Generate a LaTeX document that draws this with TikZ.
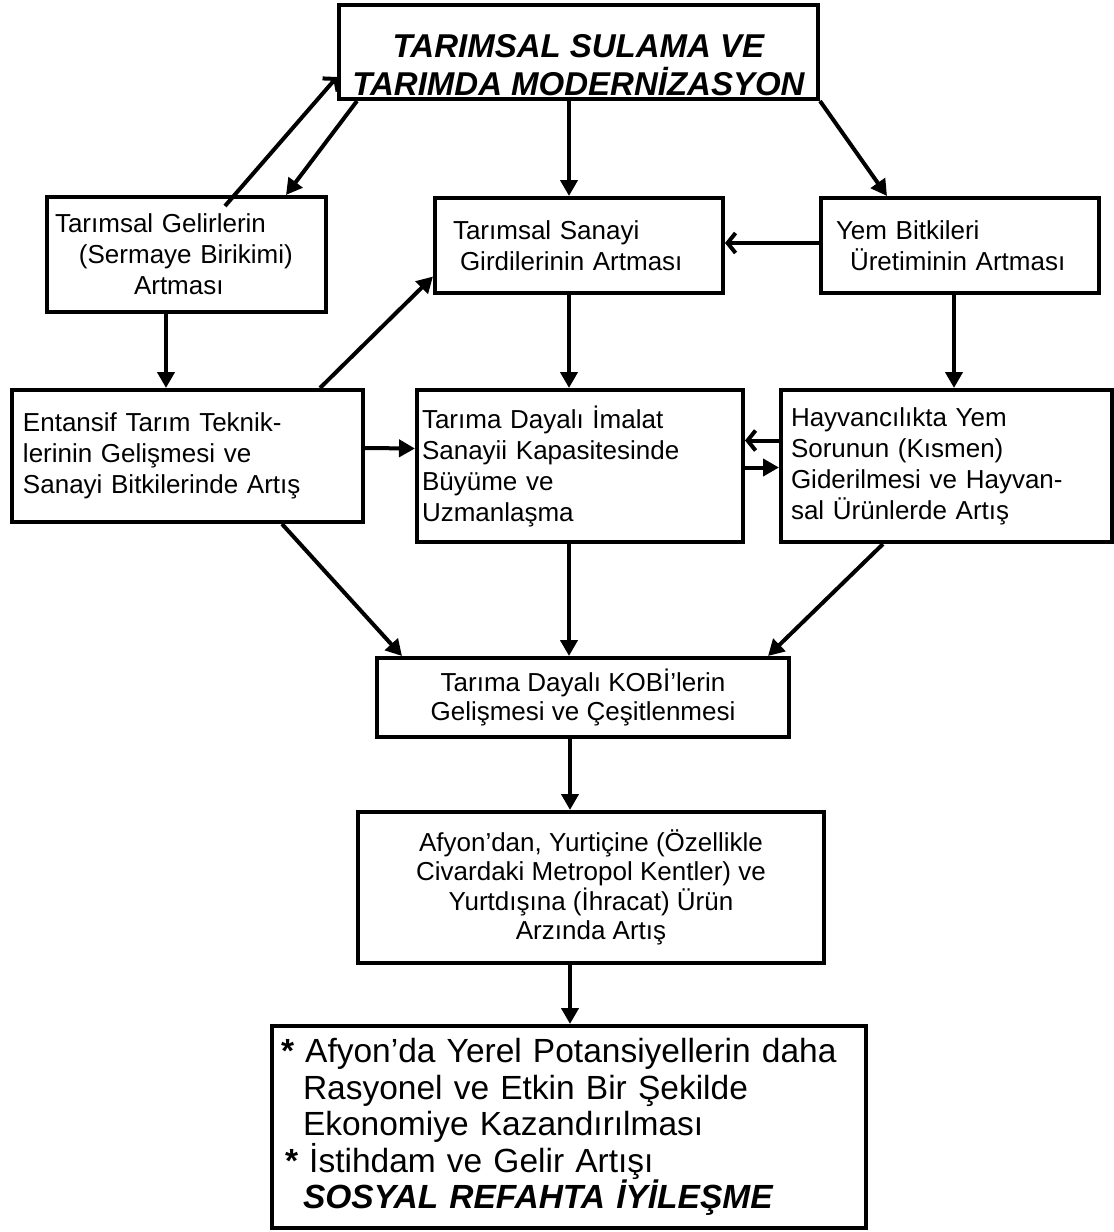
\documentclass[tikz,border=0pt]{standalone}
\usepackage{fontspec}
\setmainfont{Liberation Sans}
\usepackage{tikz}
\usetikzlibrary{arrows.meta,calc,positioning}

\begin{document}
\begin{tikzpicture}[x=1pt,y=-1pt,font=\fontsize{26}{31}\selectfont,
    box/.style={draw, line width=4pt, inner ysep=0pt, align=left},
    arr/.style={-{Triangle[length=16pt,width=17pt]}, line width=4pt},
    barb/.style={-{Straight Barb[length=8pt,width=20pt]}, line width=4pt}]
        \useasboundingbox (0,0) rectangle (1114,1232);

        % top level
        \node[box, align=center, minimum width=479pt, minimum height=94pt,
            font=\fontsize{33}{38}\selectfont\bfseries\itshape] (modern) at (578.5,52)
            {\rule{0pt}{49pt}TARIMSAL SULAMA VE\\TARIMDA MODERNİZASYON};

        % first row
        \node[box, minimum width=279pt, minimum height=115pt, inner xsep=8pt, text width=263pt] (gelir) at (186.5,254.5)
            {Tarımsal Gelirlerin\\\hspace*{24pt}(Sermaye Birikimi)\\\hspace*{79pt}Artması};
        \node[box, minimum width=288pt, minimum height=95pt, inner xsep=18pt, text width=252pt] (girdi) at (579,245.5)
            {Tarımsal Sanayi\\\hspace*{7pt}Girdilerinin Artması};
        \node[box, minimum width=278pt, minimum height=95pt, inner xsep=15pt, text width=248pt] (yem) at (960,245.5)
            {Yem Bitkileri\\\hspace*{14pt}Üretiminin Artması};

        % second row
        \node[box, minimum width=351pt, minimum height=132pt, inner xsep=11pt, text width=329pt] (entansif) at (187.5,456)
            {Entansif Tarım Teknik-\\lerinin Gelişmesi ve\\Sanayi Bitkilerinde Artış};
        \node[box, minimum width=326pt, minimum height=152pt, inner xsep=5pt, text width=316pt] (imalat) at (580,466)
            {Tarıma Dayalı İmalat\\Sanayii Kapasitesinde\\Büyüme ve\\Uzmanlaşma};
        \node[box, minimum width=331pt, minimum height=152pt, inner xsep=10pt, text width=311pt] (hayvan) at (946.5,466)
            {Hayvancılıkta Yem\\Sorunun (Kısmen)\\Giderilmesi ve Hayvan-\\sal Ürünlerde Artış};

        % lower chain
        \node[box, align=center, minimum width=412pt, minimum height=79pt,
            font=\fontsize{26}{29.5}\selectfont] (kobi) at (583,697.5)
            {Tarıma Dayalı KOBİ’lerin\\Gelişmesi ve Çeşitlenmesi};
        \node[box, align=center, minimum width=466pt, minimum height=151pt,
            font=\fontsize{26}{29.5}\selectfont] (arz) at (591,887.5)
            {Afyon’dan, Yurtiçine (Özellikle\\Civardaki Metropol Kentler) ve\\Yurtdışına (İhracat) Ürün\\Arzında Artış};
        \node[box, minimum width=594pt, minimum height=202pt, inner xsep=9pt, text width=576pt,
            font=\fontsize{33.5}{36.5}\selectfont] (refah) at (569,1127)
            {\textbf{*} Afyon’da Yerel Potansiyellerin daha\\\hspace*{22pt}Rasyonel ve Etkin Bir Şekilde\\\hspace*{22pt}Ekonomiye Kazandırılması\\\hspace*{4pt}\textbf{*} İstihdam ve Gelir Artışı\\\hspace*{22pt}\textbf{\textit{SOSYAL REFAHTA İYİLEŞME}}};

        % connectors
        \draw[arr] ([xshift=-221.5pt]modern.south) -- ([xshift=99.5pt]gelir.north);
        \draw[barb] ([xshift=38.5pt,yshift=-11pt]gelir.north) -- ([yshift=-25pt]modern.west);
        \draw[arr] ([xshift=-9.5pt]modern.south) -- ([xshift=-10pt]girdi.north);
        \draw[arr] (modern.south east) -- ([xshift=-73pt]yem.north);
        \draw[barb] ([yshift=2.5pt]yem.west) -- ([yshift=2.5pt]girdi.east);

        \draw[arr] ([xshift=-20.5pt]gelir.south) -- ([xshift=-21.5pt]entansif.north);
        \draw[arr] ([xshift=132.5pt]entansif.north) -- ([yshift=-31pt]girdi.west);
        \draw[arr] ([xshift=-10pt]girdi.south) -- ([xshift=-11pt]imalat.north);
        \draw[arr] ([xshift=-6pt]yem.south) -- ([xshift=7.5pt]hayvan.north);

        \draw[arr] ([yshift=8pt]entansif.east) -- ([yshift=17.5pt]imalat.west);
        \draw[barb] ([yshift=25.5pt]hayvan.west) -- ([yshift=25.5pt]imalat.east);
        \draw[arr] ([yshift=-1.5pt]imalat.east) -- ([yshift=-1.5pt]hayvan.west);

        \draw[arr] ([xshift=94.5pt]entansif.south) -- ([xshift=-181pt]kobi.north);
        \draw[arr] ([xshift=-11pt]imalat.south) -- ([xshift=-14pt]kobi.north);
        \draw[arr] ([xshift=-63.5pt]hayvan.south) -- ([xshift=185pt]kobi.north);

        \draw[arr] ([xshift=-13pt]kobi.south) -- ([xshift=-21pt]arz.north);
        \draw[arr] ([xshift=-21pt]arz.south) -- ([xshift=1pt]refah.north);
    \end{tikzpicture}
\end{document}
